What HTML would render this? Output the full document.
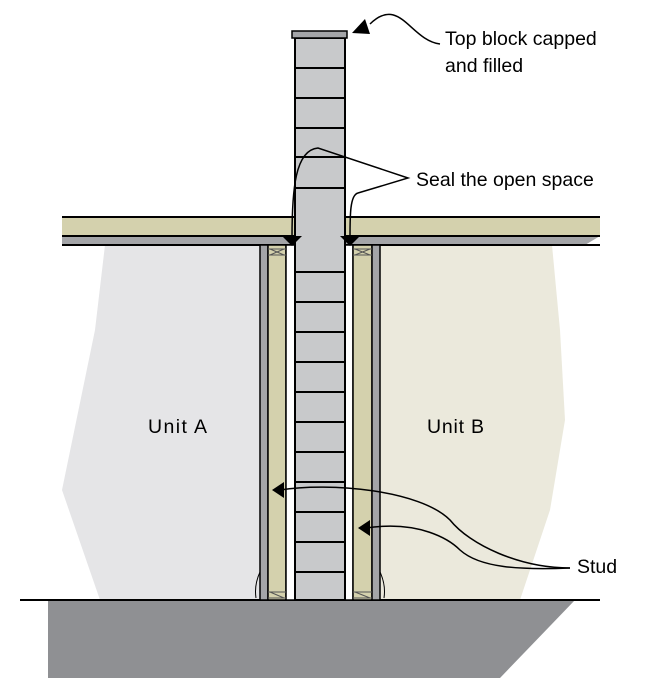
<!DOCTYPE html>
<html><head><style>body{margin:0;background:#fff}svg{display:block}</style></head>
<body>
<svg width="671" height="693" viewBox="0 0 671 693" xmlns="http://www.w3.org/2000/svg" font-family="Liberation Sans, sans-serif">
<polygon points="105,245 95,330 62,490 100,600 260,600 260,245" fill="#e5e5e7"/>
<polygon points="380,245 552,245 560,330 565,420 550,510 520,600 380,600" fill="#ebe9dc"/>
<polygon points="48,600 575,600 500,678 48,678" fill="#8f9093"/>
<line x1="20" y1="600" x2="600" y2="600" stroke="#000" stroke-width="2"/>
<rect x="62" y="217" width="538" height="19" fill="#d4d1ad"/>
<polygon points="62,236 600,236 585,245 62,245" fill="#a4a5a8"/>
<line x1="62" y1="217" x2="600" y2="217" stroke="#000" stroke-width="2"/>
<line x1="62" y1="236" x2="600" y2="236" stroke="#000" stroke-width="2"/>
<line x1="62" y1="245" x2="600" y2="245" stroke="#000" stroke-width="2"/>
<rect x="260" y="245" width="8" height="355" fill="#a4a5a8" stroke="#000" stroke-width="1.5"/>
<rect x="268" y="245" width="18" height="355" fill="#d4d1ad" stroke="#000" stroke-width="1.5"/>
<rect x="286" y="245" width="9" height="355" fill="#fff" stroke="#000" stroke-width="1.5"/>
<rect x="345" y="245" width="8" height="355" fill="#fff" stroke="#000" stroke-width="1.5"/>
<rect x="353" y="245" width="19" height="355" fill="#d4d1ad" stroke="#000" stroke-width="1.5"/>
<rect x="372" y="245" width="8" height="355" fill="#a4a5a8" stroke="#000" stroke-width="1.5"/>
<g stroke="#555" stroke-width="1" fill="none">
<path d="M268,249 L286,249 M268,255 L286,255 M270,249 L284,255 M284,249 L270,255"/>
<path d="M353,249 L372,249 M353,255 L372,255 M355,249 L370,255 M370,249 L355,255"/>
<path d="M268,592 L286,592 M268,598 L286,598 M270,592 L284,598"/>
<path d="M353,592 L372,592 M353,598 L372,598 M355,592 L370,598"/>
</g>
<path d="M260,572 Q254,585 256,598" stroke="#000" fill="none"/>
<path d="M380,572 Q386,585 384,598" stroke="#000" fill="none"/>
<rect x="295" y="38" width="50" height="562" fill="#c8c9cb" stroke="#000" stroke-width="2"/>
<rect x="292" y="31" width="55" height="7" fill="#a4a5a8" stroke="#000" stroke-width="1.5"/>
<rect x="295" y="217" width="50" height="28" fill="#c8c9cb"/>
<line x1="295" y1="217" x2="295" y2="245" stroke="#000" stroke-width="2"/>
<line x1="345" y1="217" x2="345" y2="245" stroke="#000" stroke-width="2"/>
<g stroke="#000" stroke-width="2">
<line x1="295" y1="68" x2="345" y2="68"/><line x1="295" y1="98" x2="345" y2="98"/>
<line x1="295" y1="128" x2="345" y2="128"/><line x1="295" y1="157" x2="345" y2="157"/>
<line x1="295" y1="188" x2="345" y2="188"/>
<line x1="295" y1="272" x2="345" y2="272"/><line x1="295" y1="302" x2="345" y2="302"/>
<line x1="295" y1="332" x2="345" y2="332"/><line x1="295" y1="362" x2="345" y2="362"/>
<line x1="295" y1="392" x2="345" y2="392"/><line x1="295" y1="422" x2="345" y2="422"/>
<line x1="295" y1="452" x2="345" y2="452"/><line x1="295" y1="482" x2="345" y2="482"/>
<line x1="295" y1="512" x2="345" y2="512"/><line x1="295" y1="542" x2="345" y2="542"/>
<line x1="295" y1="572" x2="345" y2="572"/>
</g>
<g stroke="#000" stroke-width="1.5" fill="none">
<path d="M292,238 C292,190 295,150 318,148 L408,178 L358,193 C350,195 350,215 350,238"/>
<path d="M370,24 C400,-5 410,40 440,44"/>
<path d="M280,490 C330,482 420,490 450,520 C470,545 520,568 570,568"/>
<path d="M366,528 C420,520 450,540 460,550 C480,568 520,570 570,568"/>
</g>
<polygon points="282,236 302,236 292,246" fill="#000"/>
<polygon points="340,236 360,236 350,246" fill="#000"/>
<polygon points="352,33 365,19 370,34" fill="#000"/>
<polygon points="272,490 284,482 284,498" fill="#000"/>
<polygon points="358,528 370,520 370,536" fill="#000"/>
<g font-size="19.5" fill="#000">
<text x="445" y="45">Top block capped</text>
<text x="445" y="72">and filled</text>
<text x="416" y="186">Seal the open space</text>
<text x="148" y="433" textLength="59">Unit A</text>
<text x="427" y="433" textLength="57">Unit B</text>
<text x="577" y="573">Stud</text>
</g>
</svg>
</body></html>
